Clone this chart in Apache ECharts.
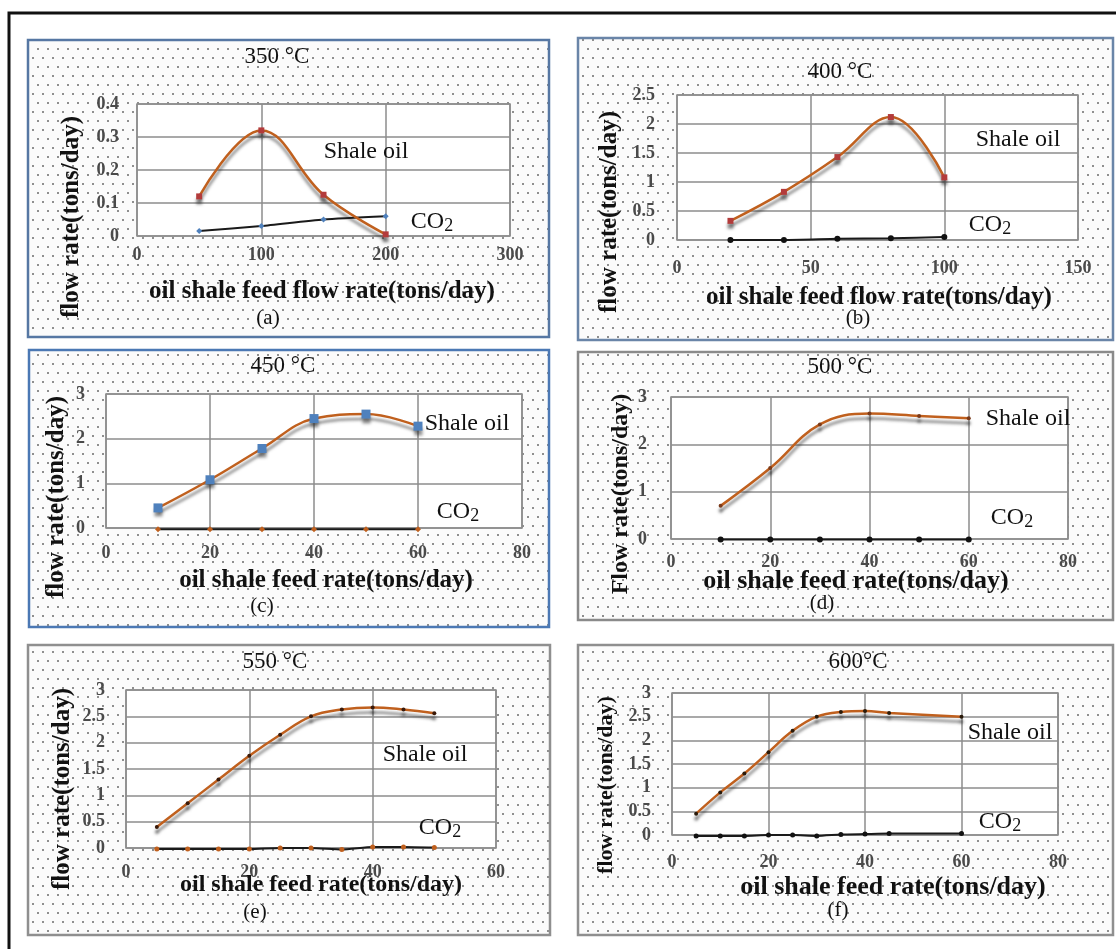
<!DOCTYPE html>
<html><head><meta charset="utf-8">
<script src="https://cdn.jsdelivr.net/npm/echarts@6/dist/echarts.min.js"></script>
<style>html,body{margin:0;padding:0;background:#fff}#c{width:1116px;height:949px}</style>
</head><body><div id="c"></div>
<script>
// ---------- data ----------
const feedA = [50, 100, 150, 200];
const oilA  = [0.12, 0.32, 0.125, 0.005];
const co2A  = [0.015, 0.03, 0.05, 0.06];
const xTicksA = [0, 100, 200, 300];
const yTicksA = [0, 0.1, 0.2, 0.3, 0.4];

const feedB = [20, 40, 60, 80, 100];
const oilB  = [0.33, 0.83, 1.43, 2.12, 1.08];
const co2B  = [0.0, 0.0, 0.02, 0.03, 0.05];
const xTicksB = [0, 50, 100, 150];
const yTicksB = [0, 0.5, 1, 1.5, 2, 2.5];

const feedC = [10, 20, 30, 40, 50, 60];
const oilC  = [0.45, 1.08, 1.78, 2.45, 2.55, 2.28];
const co2C  = [-0.03, -0.03, -0.03, -0.03, -0.03, -0.03];
const xTicksC = [0, 20, 40, 60, 80];
const yTicksC = [0, 1, 2, 3];

const feedD = [10, 20, 30, 40, 50, 60];
const oilD  = [0.7, 1.5, 2.42, 2.65, 2.6, 2.55];
const co2D  = [-0.01, -0.01, -0.01, -0.01, -0.01, -0.01];
const xTicksD = [0, 20, 40, 60, 80];
const yTicksD = [0, 1, 2, 3];

const feedE = [5, 10, 15, 20, 25, 30, 35, 40, 45, 50];
const oilE  = [0.4, 0.85, 1.3, 1.75, 2.15, 2.5, 2.63, 2.67, 2.63, 2.56];
const co2E  = [-0.02, -0.02, -0.02, -0.02, 0.0, 0.0, -0.03, 0.02, 0.02, 0.01];
const xTicksE = [0, 20, 40, 60];
const yTicksE = [0, 0.5, 1, 1.5, 2, 2.5, 3];

const feedF = [5, 10, 15, 20, 25, 30, 35, 40, 45, 60];
const oilF  = [0.45, 0.9, 1.3, 1.75, 2.2, 2.5, 2.6, 2.62, 2.58, 2.5];
const co2F  = [-0.02, -0.02, -0.02, 0, 0, -0.02, 0.01, 0.02, 0.03, 0.03];
const xTicksF = [0, 20, 40, 60, 80];
const yTicksF = [0, 0.5, 1, 1.5, 2, 2.5, 3];

const titles = ['350 °C', '400 °C', '450 °C', '500 °C', '550 °C', '600°C'];
const captions = ['(a)', '(b)', '(c)', '(d)', '(e)', '(f)'];
const yNames = ['flow rate(tons/day)', 'flow rate(tons/day)', 'flow rate(tons/day)', 'Flow rate(tons/day)', 'flow rate(tons/day)', 'flow rate(tons/day)'];
const xNames = ['oil shale feed flow rate(tons/day)', 'oil shale feed flow rate(tons/day)', 'oil shale feed rate(tons/day)', 'oil shale feed rate(tons/day)', 'oil shale feed rate(tons/day)', 'oil shale feed rate(tons/day)'];
const oilLabel = 'Shale oil';

// ---------- layout ----------
const FONT = '"Liberation Serif", "DejaVu Serif", serif';
const panels = [
  { x: feedA, oil: oilA, co2: co2A, xt: xTicksA, yt: yTicksA,
    grid: {left: 137, top: 104, width: 373, height: 132}, xm: 10, ym: 18,
    frame: [28, 40, 521, 297], frameColor: '#5677a3',
    title: [277, 57], cap: [268, 318], yn: [72, 217], ynSize: 25, xn: [322, 292], xnSize: 25, so: [366, 152], c2: [432, 222],
    oilSym: 'rect', oilSymColor: '#b33b3b', oilSymSize: 6, co2Sym: 'diamond', co2SymColor: '#4f81bd', co2SymSize: 6 },
  { x: feedB, oil: oilB, co2: co2B, xt: xTicksB, yt: yTicksB,
    grid: {left: 677, top: 95, width: 401, height: 145}, xm: 19, ym: 22,
    frame: [578, 38, 535, 302], frameColor: '#6a85a8',
    title: [840, 72], cap: [858, 318], yn: [610, 212], ynSize: 25, xn: [879, 298], xnSize: 25, so: [1018, 140], c2: [990, 225],
    oilSym: 'rect', oilSymColor: '#b33b3b', oilSymSize: 6, co2Sym: 'circle', co2SymColor: '#111', co2SymSize: 6 },
  { x: feedC, oil: oilC, co2: co2C, xt: xTicksC, yt: yTicksC,
    grid: {left: 106, top: 394, width: 416, height: 134}, xm: 16, ym: 21,
    frame: [29, 350, 520, 277], frameColor: '#4b78b4',
    title: [283, 366], cap: [262, 606], yn: [57, 497], ynSize: 25, xn: [326, 581], xnSize: 25, so: [467, 424], c2: [458, 512],
    oilSym: 'rect', oilSymColor: '#4f81bd', oilSymSize: 9, co2Sym: 'diamond', co2SymColor: '#c0601e', co2SymSize: 6 },
  { x: feedD, oil: oilD, co2: co2D, xt: xTicksD, yt: yTicksD,
    grid: {left: 671, top: 397, width: 397, height: 142}, xm: 14, ym: 24,
    frame: [578, 352, 535, 268], frameColor: '#8a8a8a',
    title: [840, 367], cap: [822, 603], yn: [621, 494], ynSize: 24, xn: [856, 581], xnSize: 26, so: [1028, 419], c2: [1012, 518],
    oilSym: 'circle', oilSymColor: '#7a3a1a', oilSymSize: 4, co2Sym: 'circle', co2SymColor: '#111', co2SymSize: 6 },
  { x: feedE, oil: oilE, co2: co2E, xt: xTicksE, yt: yTicksE,
    grid: {left: 126, top: 690, width: 370, height: 158}, xm: 15, ym: 21,
    frame: [28, 645, 522, 290], frameColor: '#8f8f8f',
    title: [275, 662], cap: [255, 912], yn: [63, 789], ynSize: 25, xn: [321, 885], xnSize: 24, so: [425, 755], c2: [440, 828],
    oilSym: 'circle', oilSymColor: '#3a1a0a', oilSymSize: 4, co2Sym: 'circle', co2SymColor: '#c0601e', co2SymSize: 5 },
  { x: feedF, oil: oilF, co2: co2F, xt: xTicksF, yt: yTicksF,
    grid: {left: 672, top: 693, width: 386, height: 142}, xm: 18, ym: 21,
    frame: [578, 645, 535, 290], frameColor: '#8f8f8f',
    title: [858, 662], cap: [838, 910], yn: [606, 785], ynSize: 22, xn: [893, 887], xnSize: 26, so: [1010, 733], c2: [1000, 822],
    oilSym: 'circle', oilSymColor: '#2a1a0a', oilSymSize: 4, co2Sym: 'circle', co2SymColor: '#111', co2SymSize: 5 }
];

// dotted background pattern
const pat = document.createElement('canvas');
pat.width = 10; pat.height = 18;
const g = pat.getContext('2d');
g.fillStyle = '#fbfbfb'; g.fillRect(0, 0, 10, 18);
g.fillStyle = '#8f8f8f';
g.fillRect(2, 3, 2, 2);
g.fillRect(7, 12, 2, 2);

const zip = (xs, ys) => xs.map((v, i) => [v, ys[i]]);
const OIL = '#c0601e';

const grids = [], xAxes = [], yAxes = [], series = [], graphics = [];

graphics.push({ type: 'rect', z: -20, shape: {x: 9, y: 13, width: 1130, height: 960},
  style: {fill: '#fff', stroke: '#111', lineWidth: 3} });

panels.forEach((p, i) => {
  graphics.push({ type: 'rect', z: -10, shape: {x: p.frame[0], y: p.frame[1], width: p.frame[2], height: p.frame[3]},
    style: {fill: {image: pat, repeat: 'repeat'}, stroke: p.frameColor, lineWidth: 2.5} });
  grids.push(Object.assign({ show: true, backgroundColor: '#fff', borderColor: '#8c8c8c', borderWidth: 1.5,
    containLabel: false, outerBoundsMode: 'none' }, p.grid));
  const xt = p.xt, yt = p.yt;
  const lab = {fontFamily: FONT, fontSize: 18, fontWeight: 'bold', color: '#4a4a4a'};
  xAxes.push({ type: 'value', gridIndex: i, min: xt[0], max: xt[xt.length - 1], interval: xt[1] - xt[0],
    axisLine: {show: false}, axisTick: {show: false},
    splitLine: {show: true, lineStyle: {color: '#8c8c8c', width: 1.5}},
    axisLabel: Object.assign({margin: p.xm}, lab) });
  yAxes.push({ type: 'value', gridIndex: i, min: yt[0], max: yt[yt.length - 1], interval: yt[1] - yt[0],
    axisLine: {show: false}, axisTick: {show: false},
    splitLine: {show: true, lineStyle: {color: '#8c8c8c', width: 1.5}},
    axisLabel: Object.assign({margin: p.ym}, lab) });
  series.push({ type: 'line', name: 'Shale oil', xAxisIndex: i, yAxisIndex: i, data: zip(p.x, p.oil),
    smooth: 0.4, z: 4, clip: false,
    symbol: p.oilSym, symbolSize: p.oilSymSize,
    lineStyle: {color: OIL, width: 2.5, shadowColor: 'rgba(40,40,40,0.55)', shadowBlur: 3, shadowOffsetY: 5},
    itemStyle: {color: p.oilSymColor, shadowColor: 'rgba(40,40,40,0.5)', shadowBlur: 3, shadowOffsetY: 5} });
  series.push({ type: 'line', name: 'CO2', xAxisIndex: i, yAxisIndex: i, data: zip(p.x, p.co2),
    smooth: 0.2, z: 3, clip: false,
    symbol: p.co2Sym, symbolSize: p.co2SymSize,
    lineStyle: {color: '#1a1a1a', width: 2},
    itemStyle: {color: p.co2SymColor} });

  const txt = (x, y, text, font, extra) => Object.assign({ type: 'text', x: x, y: y, z: 50,
    style: {text: text, font: font, fill: '#111', align: 'center', verticalAlign: 'middle',
      textAlign: 'center', textVerticalAlign: 'middle'} }, extra || {});
  graphics.push(txt(p.title[0], p.title[1], titles[i], '23px ' + FONT));
  graphics.push(txt(p.cap[0], p.cap[1], captions[i], '21px ' + FONT));
  graphics.push(txt(p.xn[0], p.xn[1], xNames[i], 'bold ' + p.xnSize + 'px ' + FONT));
  graphics.push(txt(p.yn[0], p.yn[1], yNames[i], 'bold ' + p.ynSize + 'px ' + FONT, {rotation: Math.PI / 2}));
  graphics.push(txt(p.so[0], p.so[1], oilLabel, '24px ' + FONT));
  graphics.push({ type: 'text', x: p.c2[0], y: p.c2[1], z: 50,
    style: {text: '{a|CO}{b|2}', fill: '#111', align: 'center', verticalAlign: 'middle',
      textAlign: 'center', textVerticalAlign: 'middle',
      rich: {a: {fontFamily: FONT, fontSize: 24, fill: '#111', color: '#111'},
             b: {fontFamily: FONT, fontSize: 18, fill: '#111', color: '#111', padding: [8, 0, 0, 0]}}} });
});

const chart = echarts.init(document.getElementById('c'), null, {renderer: 'canvas'});
chart.setOption({
  animation: false,
  backgroundColor: '#fff',
  grid: grids, xAxis: xAxes, yAxis: yAxes, series: series,
  graphic: {elements: graphics}
});
</script>
</body></html>
